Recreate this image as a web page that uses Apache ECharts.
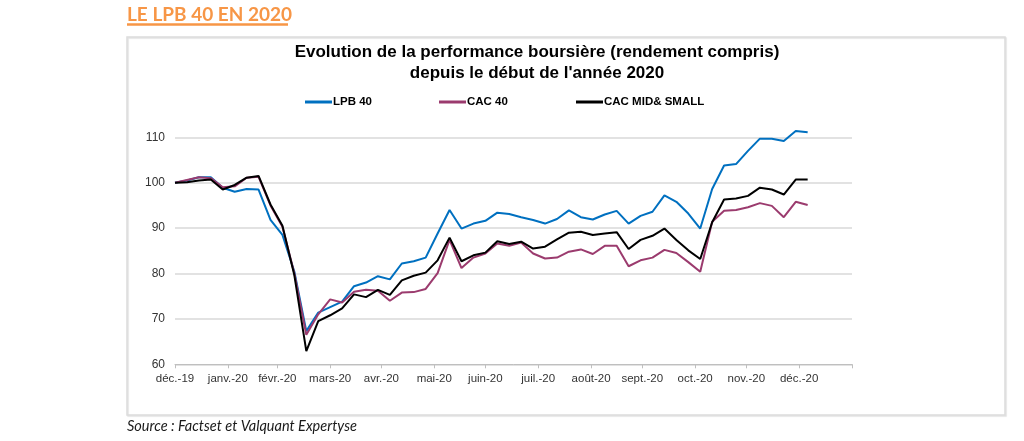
<!DOCTYPE html>
<html>
<head>
<meta charset="utf-8">
<script src="https://cdn.jsdelivr.net/npm/echarts@6/dist/echarts.min.js"></script>
<style>
html,body{margin:0;padding:0;background:#fff;}
#chart{width:1024px;height:441px;}
</style>
</head>
<body>
<div id="chart"></div>
<script>
// Weekly observations starting 31 Dec 2019 (day offsets = 7 * week index)
const seriesNames = ['LPB 40', 'CAC 40', 'CAC MID& SMALL'];
const lpb40 = [100, 100.5, 101.2, 101.2, 98.9, 98.0, 98.6, 98.5, 91.8, 88.5,
  80.4, 67.3, 71.4, 72.6, 73.8, 77.2, 78.0, 79.4, 78.7, 82.2,
  82.7, 83.5, 88.8, 94.0, 89.9, 91.0, 91.6, 93.4, 93.1, 92.4,
  91.8, 91.0, 92.0, 93.9, 92.4, 91.9, 93.0, 93.8, 91.0, 92.7,
  93.6, 97.2, 95.8, 93.2, 89.9, 98.6, 103.8, 104.1, 107.0, 109.7,
  109.7, 109.2, 111.4, 111.1];
const cac40 = [100, 100.6, 101.2, 101.0, 99.0, 99.2, 101.1, 101.3, 95.0, 90.3,
  80.0, 66.5, 71.0, 74.3, 73.6, 76.0, 76.4, 76.2, 74.0, 75.8,
  75.9, 76.6, 80.1, 87.4, 81.2, 83.5, 84.4, 86.6, 86.1, 86.8,
  84.4, 83.3, 83.5, 84.8, 85.3, 84.3, 86.1, 86.1, 81.6, 82.9,
  83.5, 85.2, 84.5, 82.5, 80.4, 91.4, 93.8, 94.0, 94.6, 95.5,
  94.9, 92.4, 95.8, 95.1];
const cacMidSmall = [100, 100.1, 100.5, 100.7, 98.5, 99.5, 101.1, 101.5, 95.2, 90.5,
  79.6, 62.9, 69.5, 70.8, 72.3, 75.4, 74.8, 76.4, 75.3, 78.5,
  79.5, 80.2, 82.9, 87.9, 82.7, 84.0, 84.6, 87.1, 86.5, 87.0,
  85.5, 85.9, 87.5, 89.0, 89.2, 88.5, 88.8, 89.1, 85.4, 87.4,
  88.3, 89.9, 87.4, 85.1, 83.2, 91.3, 96.3, 96.5, 97.1, 98.9,
  98.5, 97.4, 100.7, 100.7];
// month-end ticks, in days after 31 Dec 2019
const tickDays = [0, 31, 60, 91, 121, 152, 182, 213, 244, 274, 305, 335, 366, 397];
const tickLabels = ['déc.-19', 'janv.-20', 'févr.-20', 'mars-20', 'avr.-20', 'mai-20',
  'juin-20', 'juil.-20', 'août-20', 'sept.-20', 'oct.-20', 'nov.-20', 'déc.-20'];
const yTicks = [60, 70, 80, 90, 100, 110];
const colors = ['#0070C0', '#9B3B6E', '#000000'];

const toPairs = arr => arr.map((v, i) => [i * 7, v]);
const labelDays = tickDays.slice(0, tickLabels.length);

const chart = echarts.init(document.getElementById('chart'), null, {renderer: 'canvas'});
const legendBase = {
  top: 91, itemWidth: 27, itemHeight: 3, icon: 'rect', itemGap: 0,
  textStyle: {fontFamily: 'Liberation Sans', fontWeight: 'bold', fontSize: 11.5, color: '#000', padding: [0, 0, 0, -4]}
};
chart.setOption({
  animation: false,
  backgroundColor: '#fff',
  color: colors,
  title: {
    text: 'Evolution de la performance boursière (rendement compris)\ndepuis le début de l\'année 2020',
    left: 532, top: 37, textAlign: 'center',
    textStyle: {fontFamily: 'Liberation Sans', fontWeight: 'bold', fontSize: 17, lineHeight: 21, color: '#000'}
  },
  legend: [
    Object.assign({}, legendBase, {left: 300, data: [seriesNames[0]]}),
    Object.assign({}, legendBase, {left: 434, data: [seriesNames[1]]}),
    Object.assign({}, legendBase, {left: 571, data: [seriesNames[2]]})
  ],
  grid: {left: 175, right: 172, top: 137.3, bottom: 76.7, containLabel: false},
  xAxis: {
    type: 'value', min: tickDays[0], max: tickDays[tickDays.length - 1],
    axisLine: {show: true, lineStyle: {color: '#bfbfbf', width: 1}},
    axisTick: {show: true, length: 4, lineStyle: {color: '#bfbfbf'}, customValues: tickDays},
    axisLabel: {
      customValues: labelDays, margin: 9,
      fontFamily: 'Liberation Sans', fontSize: 11.5, color: '#333',
      formatter: v => tickLabels[labelDays.indexOf(v)] || ''
    },
    splitLine: {show: false}
  },
  yAxis: {
    type: 'value', min: yTicks[0], max: yTicks[yTicks.length - 1], interval: 10,
    axisLine: {show: false}, axisTick: {show: false},
    axisLabel: {margin: 10, fontFamily: 'Liberation Sans', fontSize: 12, color: '#333'},
    splitLine: {show: true, lineStyle: {color: '#d9d9d9', width: 1.5}}
  },
  series: [
    {name: seriesNames[0], type: 'line', data: toPairs(lpb40), showSymbol: false, clip: false, lineStyle: {width: 2}, z: 2},
    {name: seriesNames[1], type: 'line', data: toPairs(cac40), showSymbol: false, clip: false, lineStyle: {width: 2}, z: 3},
    {name: seriesNames[2], type: 'line', data: toPairs(cacMidSmall), showSymbol: false, clip: false, lineStyle: {width: 2}, z: 4}
  ],
  graphic: [
    {type: 'rect', shape: {x: 127, y: 37, width: 878, height: 378},
      style: {fill: 'none', stroke: '#dcdcdc', lineWidth: 1.5, shadowColor: 'rgba(0,0,0,0.12)', shadowOffsetX: 1, shadowOffsetY: 1, shadowBlur: 1}, silent: true, z: 0},
    {type: 'text', left: 127, top: 5,
      style: {text: 'LE LPB 40 EN 2020', fill: '#F79646', font: 'bold 19px Lato'}},
    {type: 'line', shape: {x1: 127, y1: 24.5, x2: 288, y2: 24.5}, style: {stroke: '#F79646', lineWidth: 2.5}},
    {type: 'text', left: 127, top: 419,
      style: {text: 'Source : Factset et Valquant Expertyse', fill: '#1a1a1a', font: 'italic 14.5px Lato'}}
  ]
});
</script>
</body>
</html>
